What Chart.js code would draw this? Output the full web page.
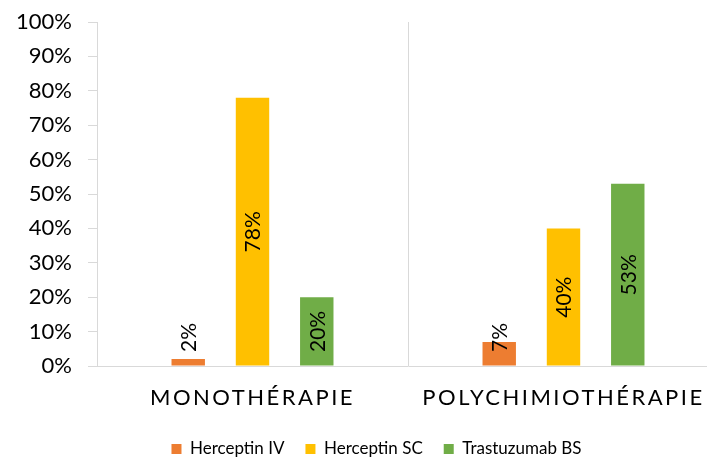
<!DOCTYPE html>
<html><head><meta charset="utf-8">
<script src="https://cdn.jsdelivr.net/npm/chart.js@4/dist/chart.umd.min.js"></script>
<style>
html,body{margin:0;padding:0;background:#fff;overflow:hidden;width:707px;height:462px;}
#wrap{position:absolute;left:0;top:0;width:760px;height:462px;}
</style></head>
<body>
<div id="wrap"><canvas id="c" width="760" height="462"></canvas></div>
<script>
const categories = ["MONOTHÉRAPIE", "POLYCHIMIOTHÉRAPIE"];
const seriesNames = ["Herceptin IV", "Herceptin SC", "Trastuzumab BS"];
const herceptinIV = [2, 7];
const herceptinSC = [78, 40];
const trastuzumabBS = [20, 53];
const yTicks = [0, 10, 20, 30, 40, 50, 60, 70, 80, 90, 100];
const colors = ["#ED7D31", "#FFC000", "#70AD47"];

const FONT = "Lato, 'Open Sans', sans-serif";

const labelPlugin = {
  id: 'barLabels',
  afterDatasetsDraw(chart) {
    const ctx = chart.ctx;
    const yScale = chart.scales.y;
    const base = yScale.getPixelForValue(0);
    ctx.save();
    ctx.font = "21px " + FONT;
    ctx.fillStyle = "#000";
    ctx.textAlign = "center";
    ctx.textBaseline = "middle";
    chart.data.datasets.forEach((ds, di) => {
      const meta = chart.getDatasetMeta(di);
      meta.data.forEach((bar, i) => {
        const txt = ds.data[i] + "%";
        const w = ctx.measureText(txt).width;
        const barCenter = (bar.y + base) / 2;
        const cy = Math.min(barCenter, base - 14 - w / 2);
        ctx.save();
        ctx.translate(bar.x, cy);
        ctx.rotate(-Math.PI / 2);
        ctx.fillText(txt, 0, 1);
        ctx.restore();
      });
    });
    ctx.restore();
  }
};

const tweakPlugin = {
  id: 'tweaks',
  afterLayout(chart) {
    const l = chart.legend;
    if (l) { l.left += 17; l.right += 17; }
  },
  beforeDraw(chart) {
    const s = chart.scales.x;
    if (s && !s._patched) {
      const orig = s.drawLabels;
      s.drawLabels = function (area) {
        const ctx = this.ctx;
        ctx.save();
        ctx.letterSpacing = "2.5px";
        orig.call(this, area);
        ctx.restore();
      };
      s._patched = true;
    }
  }
};

new Chart(document.getElementById('c'), {
  type: 'bar',
  data: {
    labels: categories,
    datasets: [
      { label: seriesNames[0], data: herceptinIV, backgroundColor: colors[0] },
      { label: seriesNames[1], data: herceptinSC, backgroundColor: colors[1] },
      { label: seriesNames[2], data: trastuzumabBS, backgroundColor: colors[2] }
    ]
  },
  options: {
    responsive: false,
    animation: false,
    devicePixelRatio: 1,
    layout: { padding: { left: 0, right: 41, top: 22, bottom: 2.5 } },
    datasets: { bar: { categoryPercentage: 0.62, barPercentage: 0.52 } },
    scales: {
      x: {
        afterFit(scale) { scale.height = 53.5; },
        grid: { display: true, offset: true, drawOnChartArea: true, drawTicks: false, color: '#d9d9d9', lineWidth: 1 },
        border: { display: true, color: '#d9d9d9', width: 1 },
        ticks: { font: { family: FONT, size: 22 }, color: '#000', padding: 19, maxRotation: 0 }
      },
      y: {
        min: 0, max: 100,
        afterFit(scale) { scale.width = 97; scale.paddingTop = 0; scale.paddingBottom = 0; },
        afterBuildTicks(scale) { scale.ticks = yTicks.map(v => ({ value: v })); },
        grid: { drawOnChartArea: false, drawTicks: true, tickLength: 9, color: '#d9d9d9' },
        border: { display: true, color: '#d9d9d9', width: 1 },
        ticks: { font: { family: FONT, size: 22 }, color: '#000', padding: 16, callback: v => v + '%' }
      }
    },
    plugins: {
      legend: {
        position: 'bottom',
        maxHeight: 40,
        labels: { font: { family: FONT, size: 17 }, color: '#000', boxWidth: 10, boxHeight: 10, padding: 21 }
      },
      tooltip: { enabled: false }
    }
  },
  plugins: [labelPlugin, tweakPlugin]
});
</script>
</body></html>
